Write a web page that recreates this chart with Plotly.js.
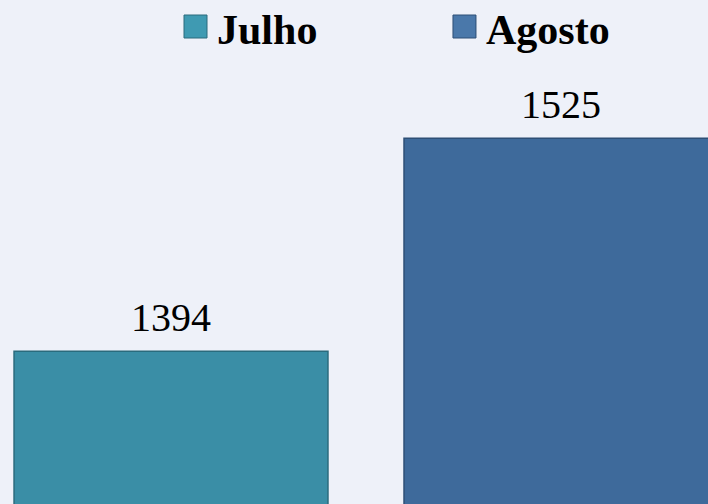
<!DOCTYPE html>
<html>
<head>
<meta charset="utf-8">
<script src="https://cdn.plot.ly/plotly-3.0.1.min.js"></script>
<style>html,body{margin:0;padding:0;background:#eef1f9;}</style>
</head>
<body>
<div id="chart" style="width:708px;height:504px;"></div>
<script>
const categories = ["Julho", "Agosto"];
const values = [1394, 1525];
const colors = ["#3a8ea6", "#3e6a9b"];
const edgeColors = ["#2a6b7d", "#2d4f76"];
const legendColors = ["#3f9ab2", "#4a78aa"];

const traces = categories.map((c, i) => ({
  type: "bar",
  name: c,
  x: [c],
  y: [values[i]],
  width: 0.805,
  marker: {color: colors[i], line: {color: edgeColors[i], width: 1.5}},
  showlegend: false,
  hoverinfo: "x+y"
}));

const legendX = [0.2599, 0.6398];
const shapes = [];
const annotations = [];
categories.forEach((c, i) => {
  shapes.push({type: "rect", xref: "paper", yref: "paper",
    x0: legendX[i], x1: legendX[i] + 23/708, y0: 1 - 38/504, y1: 1 - 15/504,
    fillcolor: legendColors[i], line: {color: edgeColors[i], width: 1}});
  annotations.push({xref: "paper", yref: "paper", x: legendX[i] + 31/708, y: 1 - 30/504,
    xanchor: "left", yanchor: "middle", showarrow: false, text: "<b>" + c + "</b>",
    font: {family: "Liberation Serif, Times New Roman, serif", size: 42, color: "#000"}});
  annotations.push({xref: "x", yref: "y", x: c, y: values[i],
    xanchor: "center", yanchor: "bottom", yshift: 9, showarrow: false,
    text: String(values[i]),
    font: {family: "Liberation Serif, Times New Roman, serif", size: 40, color: "#000"}});
});

const layout = {
  width: 708, height: 504,
  margin: {l: 0, r: 0, t: 0, b: 0},
  paper_bgcolor: "#eef1f9",
  plot_bgcolor: "#eef1f9",
  barmode: "overlay",
  showlegend: false,
  xaxis: {type: "category", categoryorder: "array", categoryarray: categories,
          range: [-0.4385, 1.377], visible: false, fixedrange: true},
  yaxis: {range: [1300, 1610], visible: false, fixedrange: true},
  shapes: shapes,
  annotations: annotations
};

Plotly.newPlot("chart", traces, layout, {displayModeBar: false, staticPlot: true});
</script>
</body>
</html>
